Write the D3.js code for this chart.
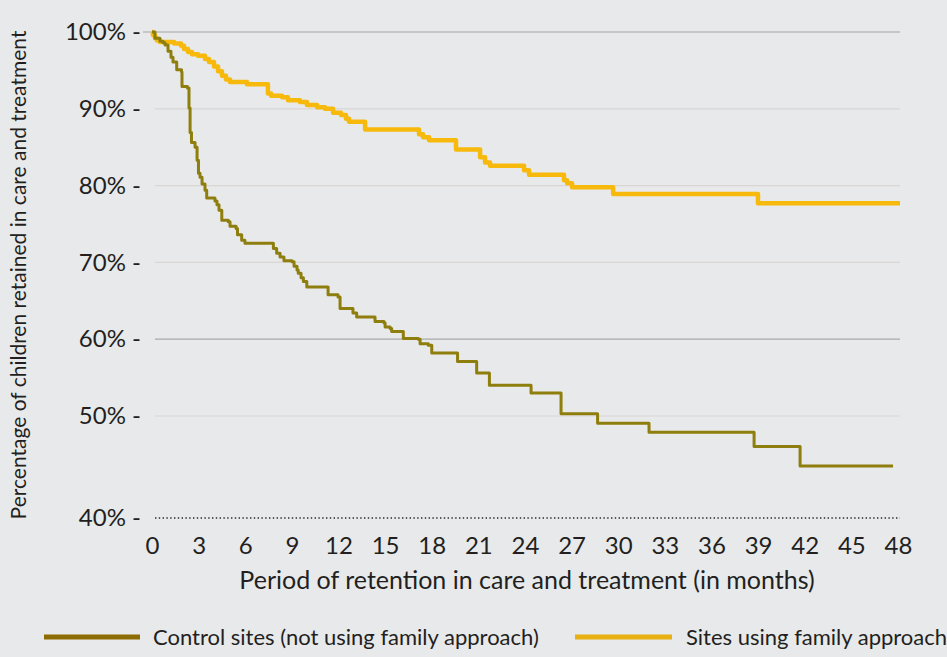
<!DOCTYPE html>
<html>
<head>
<meta charset="utf-8">
<script src="https://cdn.jsdelivr.net/npm/d3@7"></script>
<style>
  html, body { margin: 0; padding: 0; background: #e8e9eb; }
  svg { display: block; font-family: Lato, "Open Sans", sans-serif; }
</style>
</head>
<body>
<svg id="chart" width="947" height="657"></svg>
<script>
// ---- data ----
const yTicks = [40, 50, 60, 70, 80, 90, 100];
const xTicks = [0, 3, 6, 9, 12, 15, 18, 21, 24, 27, 30, 33, 36, 39, 42, 45, 48];

const controlMonths = [0,0.19,0.51,0.71,0.84,1.03,1.22,1.35,1.59,1.90,1.93,2.28,2.38,2.45,2.54,2.77,2.90,2.99,3.09,3.22,3.41,3.52,4.05,4.18,4.31,4.49,4.91,5.02,5.41,5.50,5.77,5.98,7.81,8.02,8.24,8.49,9.01,9.14,9.33,9.41,9.59,9.74,9.96,11.33,11.97,12.10,12.93,13.17,14.35,14.93,15.0,15.32,15.42,16.17,17.14,17.25,17.78,18.0,19.66,20.89,21.71,24.39,26.32,28.67,31.98,38.74,41.70,47.68];
const controlValues = [100,99.2,98.8,98.6,98.3,97.5,96.7,96.1,95.1,94.8,92.9,92.7,90.1,86.9,85.6,85.0,83.3,81.6,81.1,80.2,79.4,78.4,78.0,77.5,76.8,75.5,75.3,74.7,74.4,73.6,72.9,72.5,71.8,71.2,70.7,70.2,70.1,69.5,69.0,68.6,68.0,67.5,66.8,65.8,65.5,64.0,63.4,62.9,62.3,62.1,61.6,61.4,61.0,60.1,60.0,59.4,59.2,58.2,57.1,55.6,54.0,53.0,50.3,49.3,48.4,47.0,45.1,45.1];

const familyMonths = [0,0.06,0.19,0.32,0.51,1.42,1.87,2.06,2.32,2.57,2.96,3.41,3.67,3.99,4.25,4.50,4.76,5.02,6.11,7.46,7.66,8.37,8.75,9.52,9.97,10.62,11.13,11.65,12.16,12.48,12.68,13.71,17.18,17.44,17.83,19.56,21.11,21.43,21.75,23.94,24.26,26.51,26.71,27.03,29.67,38.99,48.13];
const familyValues = [100,99.6,99.2,98.9,98.7,98.5,98.2,97.8,97.4,97.1,96.9,96.5,96.1,95.5,94.9,94.3,93.8,93.5,93.2,92.0,91.7,91.5,91.1,90.9,90.5,90.2,90.0,89.5,89.2,88.7,88.3,87.3,86.7,86.3,85.9,84.7,83.7,83.0,82.6,82.0,81.4,80.7,80.3,79.8,78.9,77.7,77.7];

const seriesNames = ["Control sites (not using family approach)", "Sites using family approach"];
const xTitle = "Period of retention in care and treatment (in months)";
const yTitle = "Percentage of children retained in care and treatment";

// ---- drawing ----
const svg = d3.select("#chart");
const x = d3.scaleLinear().domain([0, 48]).range([152, 898]);
// broken axis: the 40%–50% band is drawn taller than the regular spacing
const y = d3.scaleLinear().domain([40, 50, 100]).range([518, 416, 32]);

const textColor = "#231f20";

// gridlines
const gridStyle = {
  100: {color: "#a3a3a3", x0: 143},
  90: {color: "#d9d6d4", x0: 155},
  80: {color: "#d9d6d4", x0: 155},
  70: {color: "#d9d6d4", x0: 155},
  60: {color: "#a9a9a9", x0: 155},
  50: {color: "#d9d6d4", x0: 155}
};
svg.append("g").selectAll("line")
  .data(yTicks.filter(d => d > 40))
  .join("line")
  .attr("x1", d => gridStyle[d].x0)
  .attr("x2", 900)
  .attr("y1", d => y(d)).attr("y2", d => y(d))
  .attr("stroke", d => gridStyle[d].color)
  .attr("stroke-width", 1.2);

// dotted baseline at 40%
svg.append("line")
  .attr("x1", 155).attr("x2", 900)
  .attr("y1", y(40)).attr("y2", y(40))
  .attr("stroke", "#2a2a2a")
  .attr("stroke-width", 1.6)
  .attr("stroke-dasharray", "1.4 2.4");

// y axis
const yAxis = d3.axisLeft(y).tickValues(yTicks).tickSize(0).tickPadding(5)
  .tickFormat(d => d + "% -");
const gy = svg.append("g").attr("transform", "translate(146,0)").call(yAxis);
gy.select(".domain").remove();
gy.selectAll("text").attr("font-size", 24).attr("fill", textColor)
  .attr("font-family", "Lato, sans-serif");

// x axis
const xAxis = d3.axisBottom(x).tickValues(xTicks).tickSize(0).tickPadding(19);
const gx = svg.append("g").attr("transform", `translate(0,${y(40)})`).call(xAxis);
gx.select(".domain").remove();
gx.selectAll("text").attr("font-size", 24).attr("fill", textColor)
  .attr("font-family", "Lato, sans-serif");

// axis titles
svg.append("text")
  .attr("x", 527).attr("y", 589)
  .attr("text-anchor", "middle")
  .attr("font-size", 25).attr("fill", textColor)
  .text(xTitle);

svg.append("text")
  .attr("transform", "translate(26,275) rotate(-90)")
  .attr("text-anchor", "middle")
  .attr("font-size", 21).attr("fill", textColor)
  .text(yTitle);

// lines
const line = d3.line().curve(d3.curveStepAfter)
  .x(d => x(d[0])).y(d => y(d[1]));

const familyData = familyMonths.map((m, i) => [m, familyValues[i]]);
const controlData = controlMonths.map((m, i) => [m, controlValues[i]]);

svg.append("path")
  .datum(familyData)
  .attr("d", line)
  .attr("fill", "none")
  .attr("stroke", "#f7b90c")
  .attr("stroke-width", 4.5)
  .attr("stroke-linejoin", "round");

svg.append("path")
  .datum(controlData)
  .attr("d", line)
  .attr("fill", "none")
  .attr("stroke", "#8e7e0d")
  .attr("stroke-width", 3)
  .attr("stroke-linejoin", "round");

// legend
const legend = [
  {name: seriesNames[0], color: "#8d6c03", x0: 44, x1: 140, tx: 153},
  {name: seriesNames[1], color: "#e8b010", x0: 575, x1: 672, tx: 686}
];
const lg = svg.append("g");
lg.selectAll("line").data(legend).join("line")
  .attr("x1", d => d.x0).attr("x2", d => d.x1)
  .attr("y1", 637).attr("y2", 637)
  .attr("stroke", d => d.color).attr("stroke-width", 5);
lg.selectAll("text").data(legend).join("text")
  .attr("x", d => d.tx).attr("y", 645)
  .attr("font-size", 22).attr("fill", textColor)
  .text(d => d.name);
</script>
</body>
</html>
